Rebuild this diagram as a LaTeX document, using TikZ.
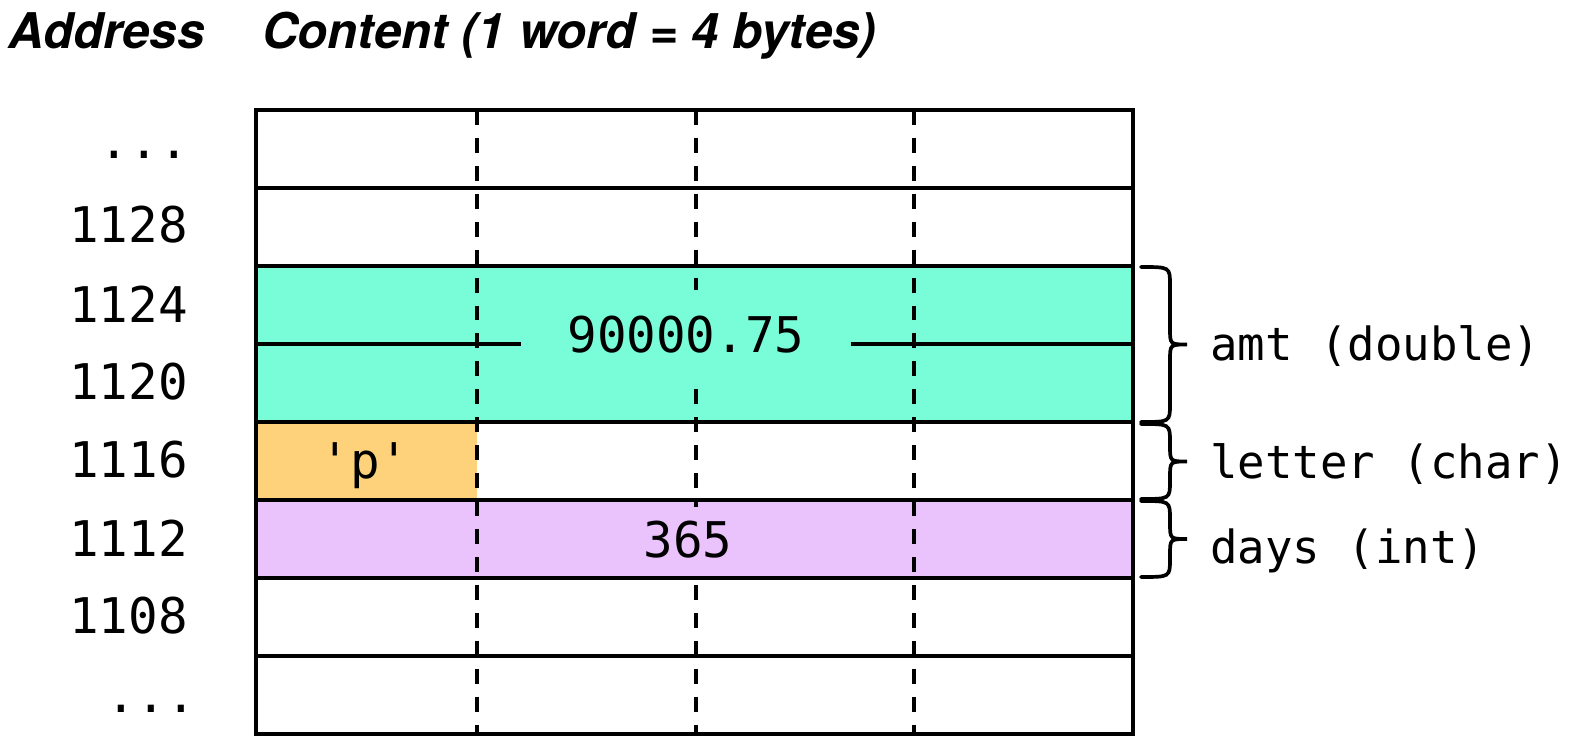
\documentclass[tikz,border=0pt]{standalone}
\usepackage{fontspec}
\setmonofont{DejaVu Sans Mono}
\newfontfamily\headfont{TeX Gyre Heros}
\definecolor{tealc}{RGB}{120,253,216}
\definecolor{orangec}{RGB}{253,210,122}
\definecolor{purplec}{RGB}{234,195,253}
\begin{document}
\begin{tikzpicture}[x=0.02cm,y=-0.02cm,
  cell/.style={draw,line width=2pt,inner sep=0pt,outer sep=0pt,minimum width=17.54cm,minimum height=1.56cm},
  dashline/.style={line width=2pt,dash pattern=on 8.5pt off 7.4pt},
  bracepath/.style={line width=2.1pt,line cap=round},
  addr/.style={font=\ttfamily\fontsize{28}{33}\selectfont,anchor=east,inner sep=0pt},
  val/.style={font=\ttfamily\fontsize{28}{33}\selectfont,anchor=base,inner ysep=0pt},
  lab/.style={font=\ttfamily\fontsize{26}{31}\selectfont,anchor=base west,inner sep=0pt},
  head/.style={font=\headfont\bfseries\itshape\fontsize{28}{33}\selectfont,anchor=base west,inner sep=0pt}]
\useasboundingbox (0,0) rectangle (1575,746);

% header
\node[head] (haddr) at (8,49) {Address};
\node[head] (hcont) at (262,49) {Content (1 word = 4 bytes)};

% rows
\node[cell] (r0) at (694.5,149) {};
\node[cell] (r1128) at (694.5,227) {};
\node[cell,fill=tealc] (r1124) at (694.5,305) {};
\node[cell,fill=tealc] (r1120) at (694.5,383) {};
\node[cell,draw=none,fill=orangec,minimum width=4.42cm] (pcell) at (366.5,461) {};
\node[cell] (r1116) at (694.5,461) {};
\node[cell,fill=purplec] (r1112) at (694.5,539) {};
\node[cell] (r1108) at (694.5,617) {};
\node[cell] (r9) at (694.5,695) {};

% byte separators
\draw[dashline] (477,110) -- (477,734);
\draw[dashline] (696,110) -- (696,734);
\draw[dashline] (914,110) -- (914,734);

% values
\node[val,fill=tealc,inner xsep=0.94cm,minimum height=1.8cm] (vamt) at (686,353) {90000.75};
\node[val,inner xsep=0pt] (vp) at (365,478) {\symbol{39}p\symbol{39}};
\node[val,fill=purplec,inner xsep=0.1cm,minimum height=1.3cm] (vdays) at (688,557) {365};

% addresses
\node[addr] (a0) at (189,155) {...};
\node[addr] (a1128) at (188,225) {1128};
\node[addr] (a1124) at (188,304) {1124};
\node[addr] (a1120) at (188,382) {1120};
\node[addr] (a1116) at (188,460) {1116};
\node[addr] (a1112) at (188,538) {1112};
\node[addr] (a1108) at (188,616) {1108};
\node[addr] (a9) at (196,709) {...};

% braces
\newcommand\membrace[2]{%
  \pgfmathsetmacro\ym{(#1+#2)/2}%
  \draw[bracepath] (1141,#1) .. controls (1170,#1) .. (1170,#1+18)
    -- (1170,\ym-16) .. controls (1170,\ym) .. (1187,\ym)
    .. controls (1170,\ym) .. (1170,\ym+16)
    -- (1170,#2-18) .. controls (1170,#2) .. (1141,#2);}
\membrace{267}{422}
\membrace{424}{499}
\membrace{501}{577}

% labels
\node[lab] (lamt) at (1210,360) {amt (double)};
\node[lab] (llet) at (1210,478) {letter (char)};
\node[lab] (ldays) at (1210,563) {days (int)};
\end{tikzpicture}
\end{document}
